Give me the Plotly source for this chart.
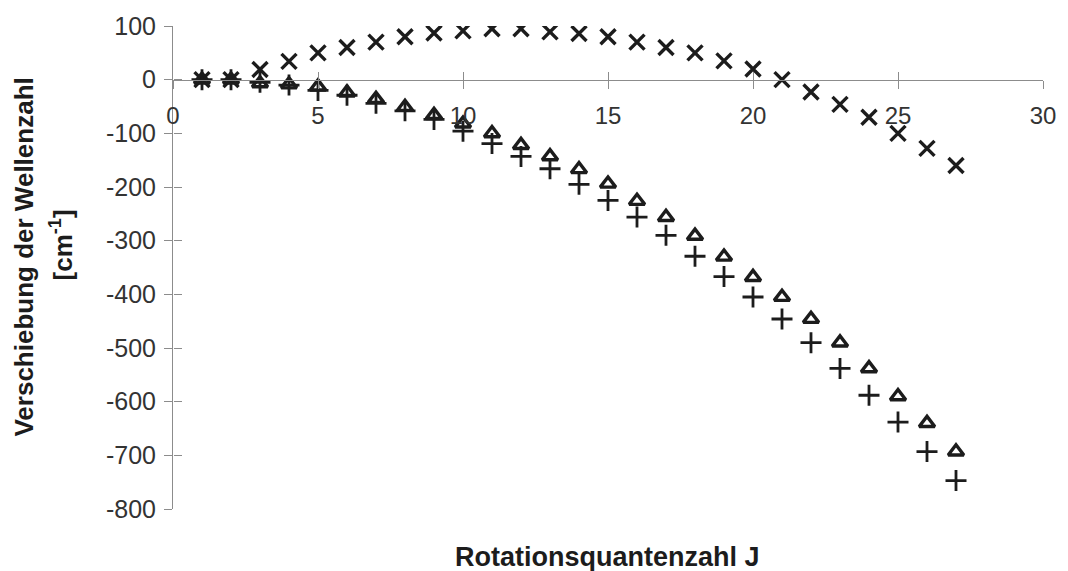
import plotly.graph_objects as go

# Rotationsquantenzahl J
J = list(range(1, 28))

# Verschiebung der Wellenzahl [cm^-1] for the three series
shift_cross = [0, 0, 19, 34, 50, 60, 70, 80, 87, 91, 95, 95, 89, 86, 80, 70,
               60, 50, 35, 20, 0, -23, -46, -70, -100, -128, -160]
shift_triangle = [0, 0, -7, -9, -13, -24, -36, -51, -66, -82, -100, -122, -143,
                  -167, -194, -226, -256, -291, -330, -368, -405, -446, -490,
                  -538, -590, -640, -693]
shift_plus = [0, 0, -5, -10, -20, -29, -44, -58, -74, -96, -119, -143, -166,
              -195, -225, -256, -290, -329, -367, -405, -446, -490, -538,
              -588, -638, -693, -747]

x_ticks = [0, 5, 10, 15, 20, 25, 30]
y_ticks = list(range(-800, 101, 100))
# plain hyphen as minus sign
y_tick_text = [str(v) for v in y_ticks]

X_RANGE = [0, 30]
Y_RANGE = [-800, 100]

INK = "#1c1c1c"
AXIS = "#8c8c8c"
LABEL = "#333333"
FONT = "Liberation Sans, Arial, sans-serif"

fig = go.Figure()

fig.add_trace(go.Scatter(
    x=J, y=shift_cross, mode="markers", showlegend=False,
    marker=dict(symbol="x-thin", size=15, color=INK,
                line=dict(color=INK, width=3.4)),
))
fig.add_trace(go.Scatter(
    x=J, y=shift_plus, mode="markers", showlegend=False,
    marker=dict(symbol="cross-thin", size=15, color=INK,
                line=dict(color=INK, width=2.8)),
))
fig.add_trace(go.Scatter(
    x=J, y=shift_triangle, mode="markers", showlegend=False,
    marker=dict(symbol="triangle-up-open", size=13.5, color=INK,
                line=dict(color=INK, width=3.4)),
))
# helper trace so the overlaid tick axes are rendered
fig.add_trace(go.Scatter(x=[None], y=[None], xaxis="x2", yaxis="y2",
                         showlegend=False, hoverinfo="skip"))

zero_pos = (0 - Y_RANGE[0]) / (Y_RANGE[1] - Y_RANGE[0])

fig.update_layout(
    width=1068, height=571,
    margin=dict(l=173, r=16, t=22, b=62),
    paper_bgcolor="white", plot_bgcolor="white",
    font=dict(family=FONT, color=LABEL),
    xaxis=dict(
        range=X_RANGE, anchor="free", position=zero_pos,
        tickvals=x_ticks, ticks="outside", ticklen=8, tickwidth=1,
        tickcolor=AXIS, showline=True, linecolor=AXIS, linewidth=1,
        showgrid=False, zeroline=False,
        tickfont=dict(size=24, color=LABEL, family=FONT),
        ticklabelstandoff=7,
    ),
    xaxis2=dict(
        range=X_RANGE, overlaying="x", anchor="free", position=zero_pos,
        tickvals=x_ticks, ticks="inside", ticklen=8, tickwidth=1,
        tickcolor=AXIS, showticklabels=False, showline=False,
        showgrid=False, zeroline=False,
    ),
    yaxis=dict(
        range=Y_RANGE, tickvals=y_ticks, ticktext=y_tick_text,
        ticks="outside", ticklen=8,
        tickwidth=1, tickcolor=AXIS, showline=True, linecolor=AXIS,
        linewidth=1, showgrid=False, zeroline=False,
        tickfont=dict(size=25, color=LABEL, family=FONT),
        ticklabelstandoff=3,
    ),
    yaxis2=dict(
        range=Y_RANGE, overlaying="y", anchor="free", position=0,
        tickvals=y_ticks, ticks="inside", ticklen=8, tickwidth=1,
        tickcolor=AXIS, showticklabels=False, showline=False,
        showgrid=False, zeroline=False,
    ),
    annotations=[
        dict(text="<b>Rotationsquantenzahl J</b>", xref="paper", yref="paper",
             x=0.4994, y=-0.0986, xanchor="center", yanchor="middle",
             showarrow=False, font=dict(size=27, color=INK, family=FONT)),
        dict(text="<b>Verschiebung der Wellenzahl</b>", xref="paper",
             yref="paper", x=-0.1707, y=0.5216, xanchor="center",
             yanchor="middle", textangle=-90, showarrow=False,
             font=dict(size=26, color=INK, family=FONT)),
        dict(text="<b>[cm<sup>-1</sup>]</b>", xref="paper", yref="paper",
             x=-0.1285, y=0.546, xanchor="center", yanchor="middle",
             textangle=-90, showarrow=False,
             font=dict(size=26, color=INK, family=FONT)),
    ],
)

fig.write_html("out.html")
